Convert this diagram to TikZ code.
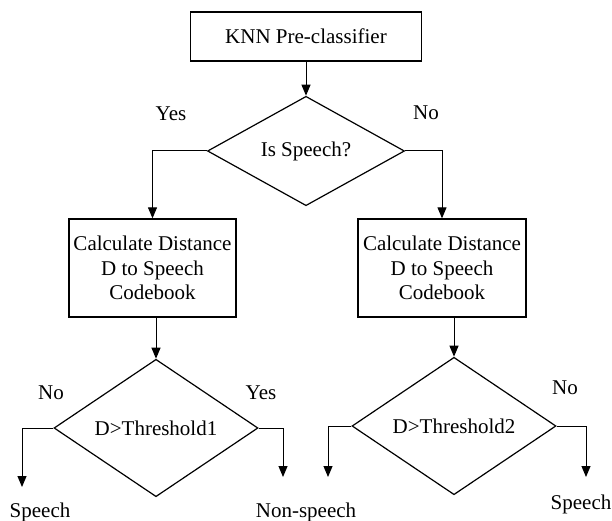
\documentclass[tikz,border=0pt]{standalone}
\usepackage{fontspec}
\setmainfont{Liberation Serif}
\usetikzlibrary{shapes.geometric,arrows.meta}

\begin{document}
\begin{tikzpicture}[x=1pt,y=-1pt,
  every node/.style={font=\fontsize{21}{24.5}\selectfont, inner sep=0pt},
  procbox/.style={draw=black, line width=1.3pt, rectangle, align=center},
  decision/.style={draw=black, line width=1.2pt, diamond},
  flow/.style={draw=black, line width=1pt, -{Triangle[length=11pt,width=9pt]}},
  lbl/.style={text=black}
]
\useasboundingbox (0,0) rectangle (612,521);

% process boxes
\node[procbox, minimum width=231pt, minimum height=49pt] (pre) at (306,36.5) {KNN Pre-classifier};
\node[procbox, minimum width=167pt, minimum height=98pt] (calcL) at (152.5,268)
  {Calculate Distance\\D to Speech\\Codebook};
\node[procbox, minimum width=168pt, minimum height=98pt] (calcR) at (442,268)
  {Calculate Distance\\D to Speech\\Codebook};

% decisions
\node[decision, minimum width=197pt, minimum height=88pt] (isq) at (306,151) {Is Speech?};
\node[decision, minimum width=204pt, minimum height=100pt] (thrL) at (156,428) {D>Threshold1};
\node[decision, minimum width=204pt, minimum height=100pt] (thrR) at (454,426) {D>Threshold2};

% free ends of the output branches
\coordinate (outLL) at (22,487);
\coordinate (outLR) at (283,477);
\coordinate (outRL) at (328,477);
\coordinate (outRR) at (586,477);

% connectors
\draw[flow] (pre.south) -- (isq.north);
\draw[flow] (isq.west) -| (calcL.north);
\draw[flow] (isq.east) -| (calcR.north);
\draw[flow] (thrL.north |- calcL.south) -- (thrL.north);
\draw[flow] (thrR.north |- calcR.south) -- (thrR.north);
\draw[flow] (thrL.west) -| (outLL);
\draw[flow] (thrL.east) -| (outLR);
\draw[flow] (thrR.west) -| (outRL);
\draw[flow] (thrR.east) -| (outRR);

% branch labels
\node[lbl] (yes1) at (171,114) {Yes};
\node[lbl] (no1) at (426,113) {No};
\node[lbl] (no2) at (51,393) {No};
\node[lbl] (yes2) at (261,393) {Yes};
\node[lbl] (no3) at (565,388) {No};

% outcomes
\node[lbl] (resLL) at (40,512) {Speech};
\node[lbl] (resLR) at (306,512) {Non-speech};
\node[lbl] (resRR) at (581,504) {Speech};
\end{tikzpicture}
\end{document}
